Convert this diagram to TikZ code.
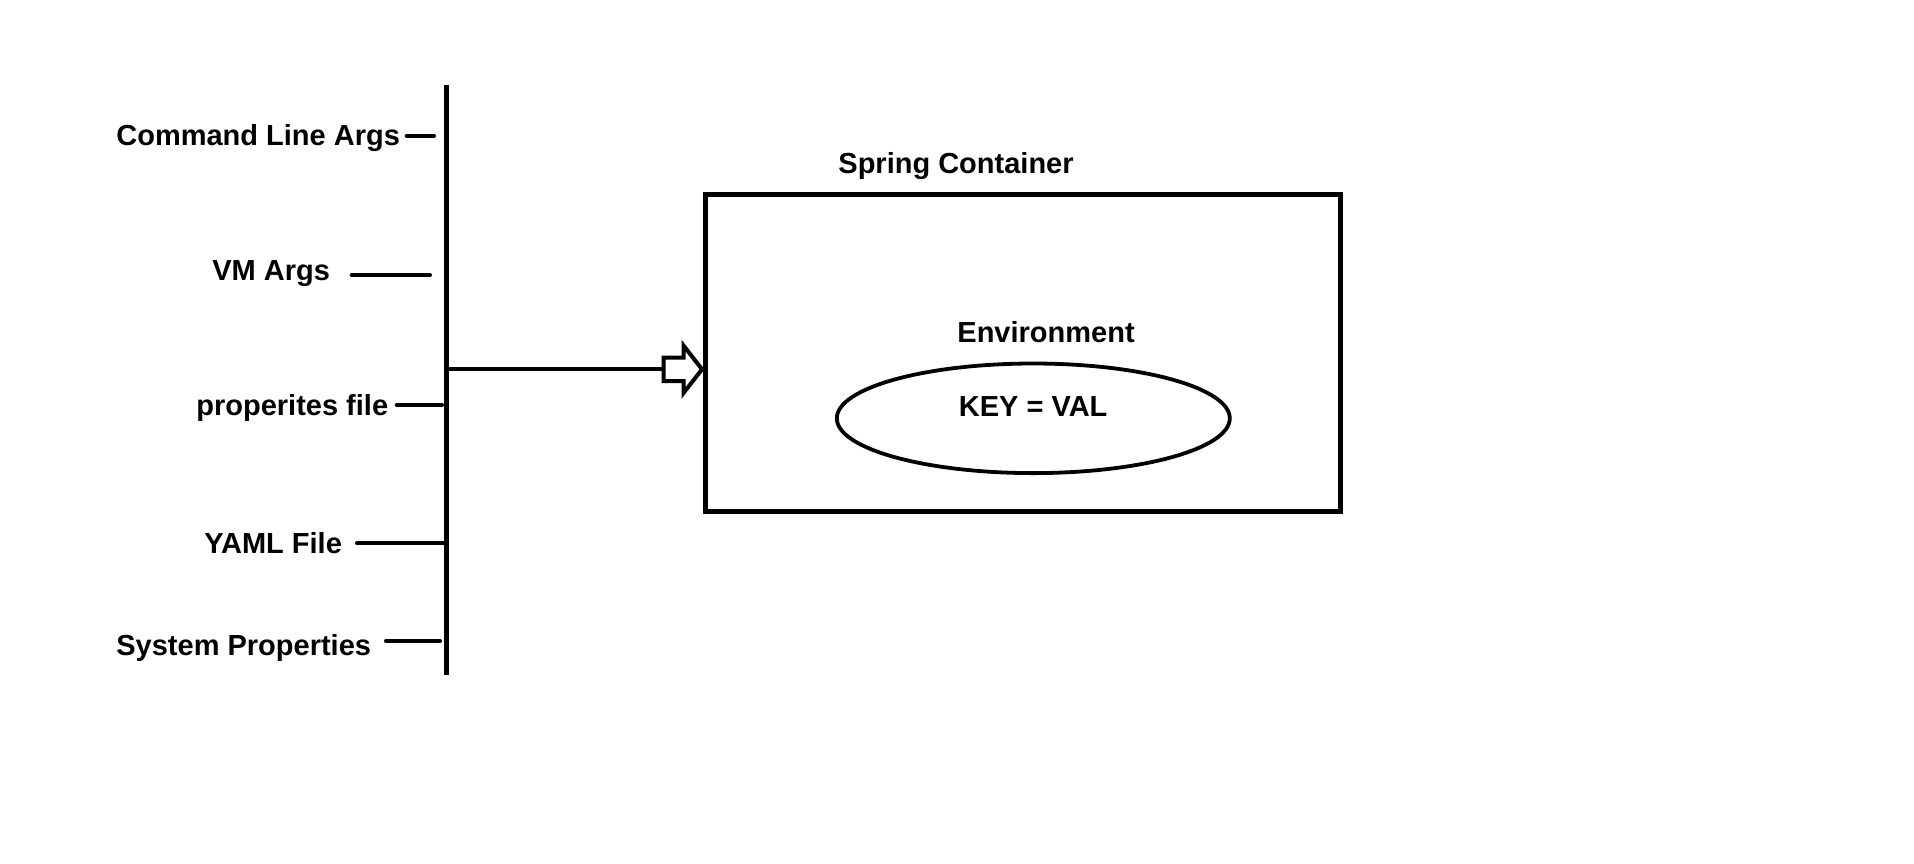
\documentclass[tikz,border=0pt]{standalone}
\usepackage{fontspec}
\setmainfont{Liberation Sans}
\usetikzlibrary{shapes.geometric}
\tikzset{
  lbl/.style={anchor=base west, inner sep=0pt, font=\fontsize{14.5}{17}\selectfont\bfseries},
  tick/.style={line width=2pt, line cap=round},
  bus/.style={line width=2.25pt},
  feed/.style={line width=2pt},
  box/.style={draw, line width=2.25pt, inner sep=0pt},
  env/.style={draw, ellipse, line width=1.9pt, inner sep=0pt},
  bigarrow/.style={draw, fill=white, line width=2pt, line join=miter}
}
\begin{document}
\begin{tikzpicture}[x=0.5pt, y=-0.5pt]
\path[use as bounding box, fill=white] (0,0) rectangle (1914,863);

% source labels
\node[lbl] (cla)  at (116,145) {Command Line Args};
\node[lbl] (vma)  at (212,280.7) {VM Args};
\node[lbl] (prop) at (196,415) {properites file};
\node[lbl] (yaml) at (204,553.3) {YAML File};
\node[lbl] (sys)  at (116,655) {System Properties};

% bus
\coordinate (bustop) at (446.5,85);
\coordinate (busbot) at (446.5,675);
\draw[bus] (bustop) -- (busbot);

% ticks
\coordinate (t1a) at (406.7,135.7); \coordinate (t1b) at (434,135.7);
\coordinate (t2a) at (351.7,275);   \coordinate (t2b) at (430,275);
\coordinate (t3a) at (396.7,405);   \coordinate (t3b) at (442,405);
\coordinate (t4a) at (357,543.3);   \coordinate (t4b) at (444,543.3);
\coordinate (t5a) at (386,641);     \coordinate (t5b) at (440,641);
\draw[tick] (t1a) -- (t1b);
\draw[tick] (t2a) -- (t2b);
\draw[tick] (t3a) -- (t3b);
\draw[tick] (t4a) -- (t4b);
\draw[tick] (t5a) -- (t5b);

% container
\node[box, minimum width=317.5pt, minimum height=158.7pt] (cont) at (1023.2,353) {};
\node[lbl] (sc) at (838,173.3) {Spring Container};
\node[lbl] (envl) at (957,342.3) {Environment};
\node[env, minimum width=196.5pt, minimum height=54.8pt] (ell) at (1033.3,418.3) {};
\node[lbl] (kv) at (958.5,416) {KEY = VAL};

% feed line and block arrow
\coordinate (busout) at (446.5,369.3);
\coordinate (arrstart) at (663.5,369.3);
\draw[feed] (busout) -- (arrstart);
\draw[bigarrow] (663.5,357.5) -- (683.5,357.5) -- (683.5,345.5) -- (702,369.3)
  -- (683.5,393) -- (683.5,381) -- (663.5,381) -- cycle;
\end{tikzpicture}
\end{document}
